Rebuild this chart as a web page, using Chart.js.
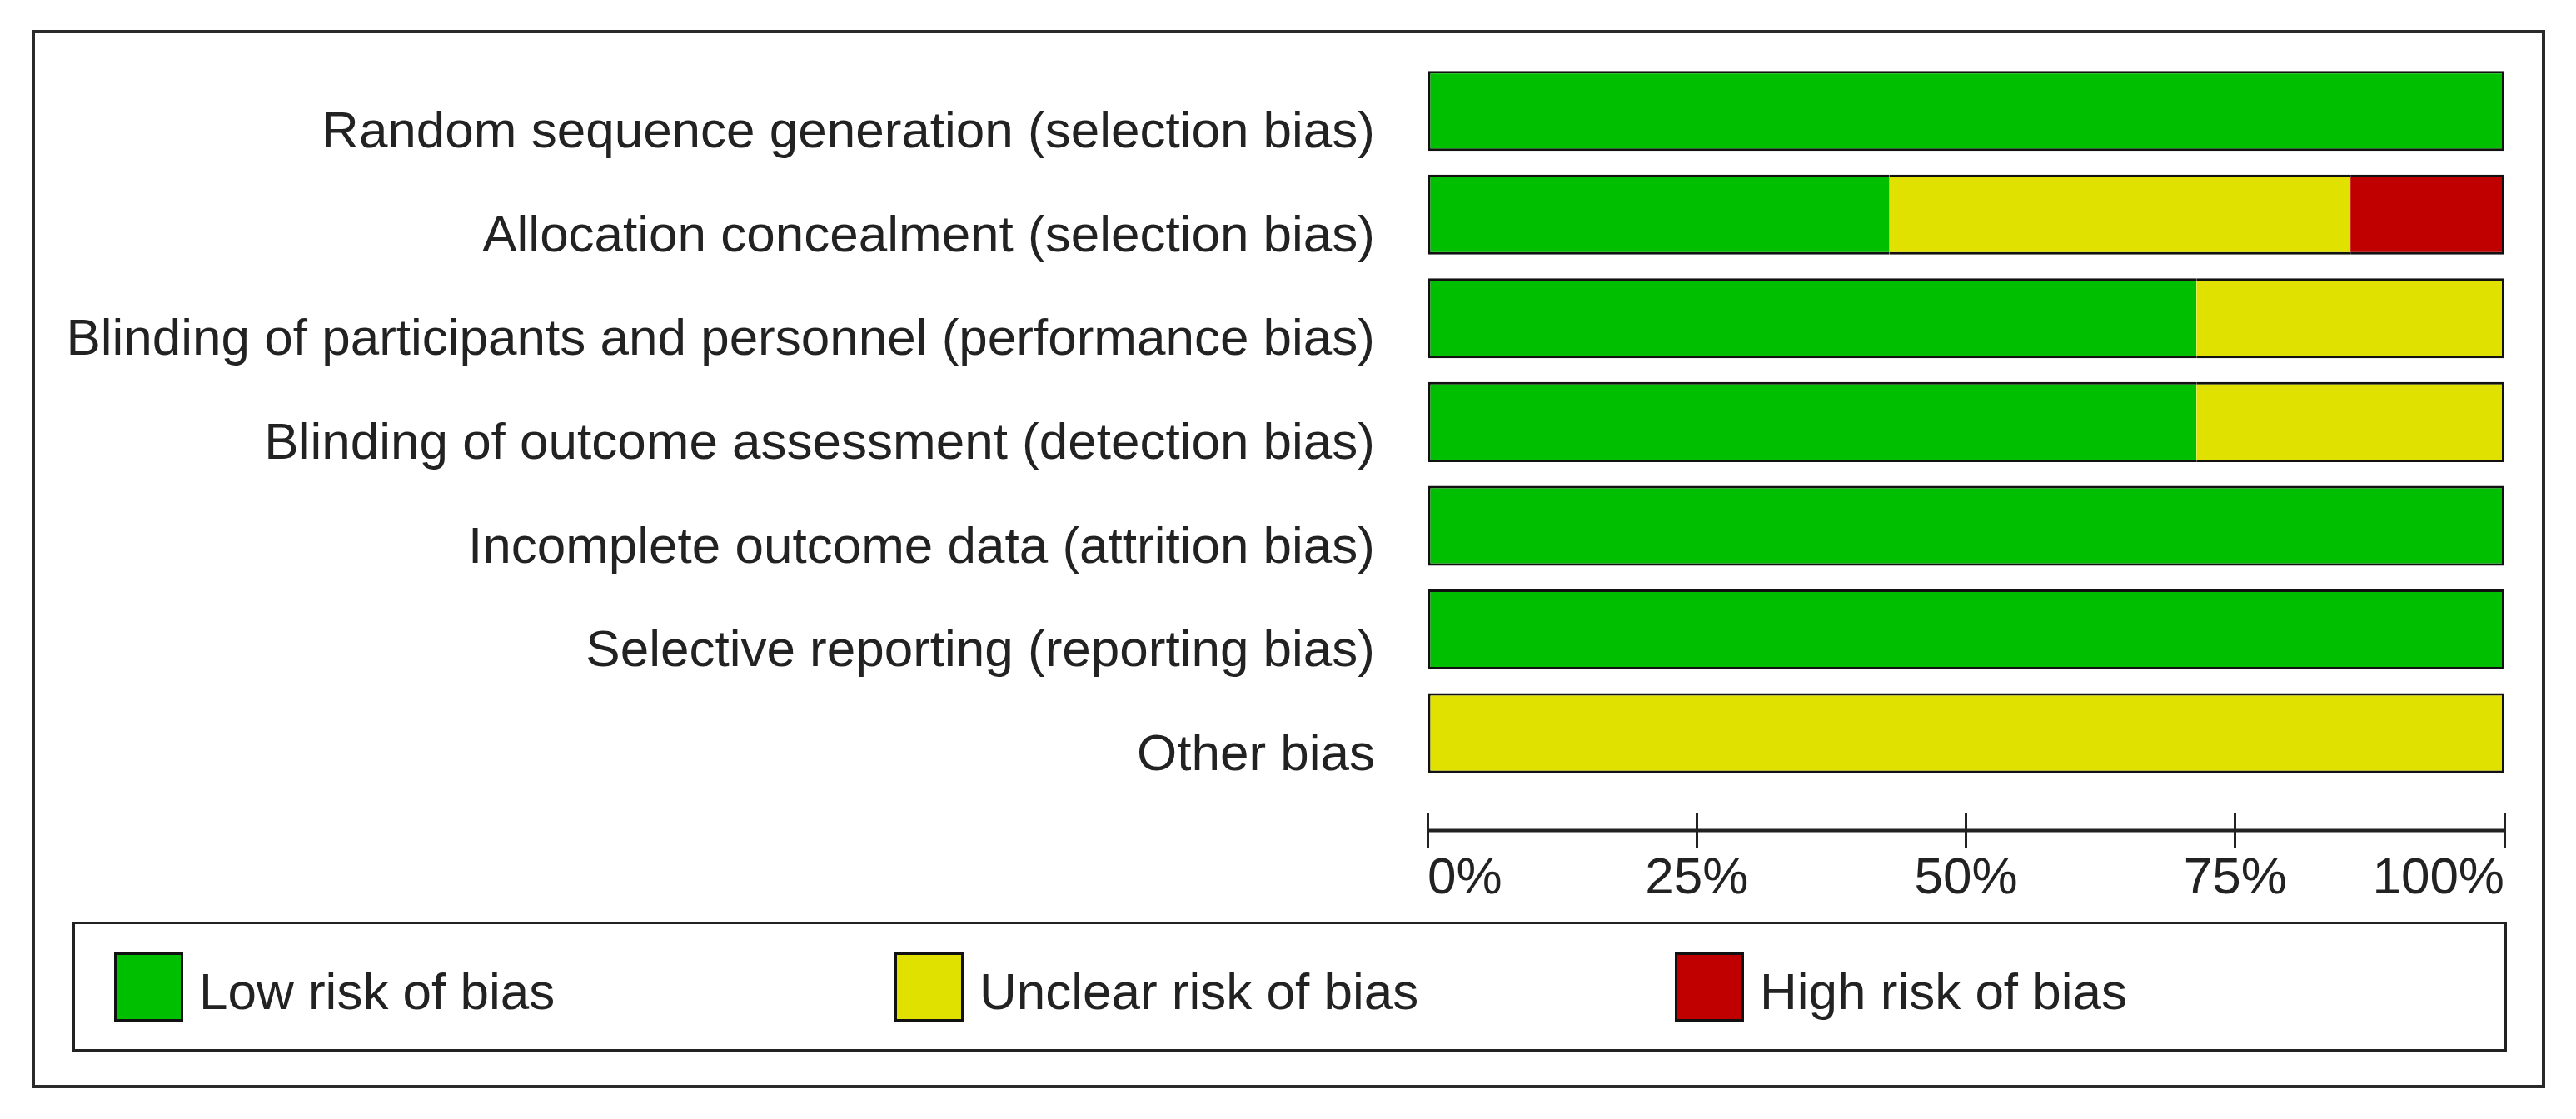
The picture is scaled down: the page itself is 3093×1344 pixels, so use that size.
<!DOCTYPE html>
<html>
<head>
<meta charset="utf-8">
<script src="https://cdn.jsdelivr.net/npm/chart.js@4.4.1/dist/chart.umd.min.js"></script>
<style>
  html, body { margin: 0; padding: 0; background: #fff; }
  #page { position: relative; width: 3093px; height: 1344px; overflow: hidden; }
  #frame {
    position: absolute; left: 38px; top: 36px; width: 3018px; height: 1271px;
    border: 4px solid #2a2a2a; box-sizing: border-box;
  }
  #chart { position: absolute; left: 0; top: 0; }
  #legend {
    position: absolute; left: 87px; top: 1107px; width: 2923px; height: 156px;
    border: 3px solid #222; box-sizing: border-box;
    display: flex; align-items: center; padding-left: 47px;
    font-family: "Liberation Sans", Arial, sans-serif; font-size: 62px; color: #222;
  }
  .item { width: 937px; display: flex; align-items: center; }
  .swatch { width: 83px; height: 83px; border: 3px solid #111; box-sizing: border-box; margin-right: 19px; }
  .item span { position: relative; top: 5px; }
</style>
</head>
<body>
<div id="page">
  <div id="frame"></div>
  <canvas id="chart" width="3093" height="1344"></canvas>
  <div id="legend"></div>
</div>
<script>
const categories = [
  'Random sequence generation (selection bias)',
  'Allocation concealment (selection bias)',
  'Blinding of participants and personnel (performance bias)',
  'Blinding of outcome assessment (detection bias)',
  'Incomplete outcome data (attrition bias)',
  'Selective reporting (reporting bias)',
  'Other bias'
]
const lowRisk = [100, 42.9, 71.4, 71.4, 100, 100, 0]
const unclearRisk = [0, 42.8, 28.6, 28.6, 0, 0, 100]
const highRisk = [0, 14.3, 0, 0, 0, 0, 0]
const xTicks = [0, 25, 50, 75, 100]

const seriesLabels = ['Low risk of bias', 'Unclear risk of bias', 'High risk of bias']
const seriesColors = ['#00bf00', '#e1e100', '#c00000']
const seriesValues = [lowRisk, unclearRisk, highRisk]

const fontSpec = { family: '"Liberation Sans", Arial, sans-serif', size: 62 }
const inkColor = '#222'
const tickLen = 43

// outer border only: no line between the coloured parts of one bar
function segmentBorder(context) {
  const i = context.dataIndex
  const d = context.datasetIndex
  const w = 3
  if (!seriesValues[d][i]) return 0
  let first = true
  let last = true
  for (let k = 0; k < d; k++) if (seriesValues[k][i]) first = false
  for (let k = d + 1; k < seriesValues.length; k++) if (seriesValues[k][i]) last = false
  return { top: w, bottom: w, left: first ? w : 0, right: last ? w : 0 }
}

const datasets = seriesValues.map((values, d) => ({
  label: seriesLabels[d],
  data: values.map((v, i) => ({ x: v, y: i })),
  backgroundColor: seriesColors[d],
  borderColor: '#111',
  borderWidth: segmentBorder,
  borderSkipped: false,
  inflateAmount: 0,
  categoryPercentage: 1,
  barPercentage: 0.771
}))

// horizontal axis line, crossing the middle of the tick marks
const axisLine = {
  id: 'axisLine',
  afterDraw(chart) {
    const xs = chart.scales.x
    const ctx = chart.ctx
    const y = xs.top + tickLen / 2
    ctx.save()
    ctx.strokeStyle = inkColor
    ctx.lineWidth = 4
    ctx.beginPath()
    ctx.moveTo(xs.getPixelForValue(xTicks[0]), y)
    ctx.lineTo(xs.getPixelForValue(xTicks[xTicks.length - 1]), y)
    ctx.stroke()
    ctx.restore()
  }
}

const chartConfig = {
  type: 'bar',
  data: { datasets: datasets },
  options: {
    indexAxis: 'y',
    responsive: false,
    devicePixelRatio: 1,
    animation: false,
    layout: {
      padding: { left: 0, top: 71, right: 86, bottom: 238 }
    },
    plugins: {
      legend: { display: false },
      tooltip: { enabled: false }
    },
    scales: {
      y: {
        type: 'linear',
        reverse: true,
        stacked: true,
        offset: false,
        min: -0.5,
        max: 6.767,
        afterFit: (scale) => {
          scale.width = 1714
          scale.paddingTop = 0
          scale.paddingBottom = 0
        },
        grid: { display: false, offset: false },
        border: { display: false },
        ticks: {
          stepSize: 1,
          includeBounds: false,
          autoSkip: false,
          padding: 55,
          labelOffset: 27,
          color: inkColor,
          font: fontSpec,
          callback: function (value) {
            return Number.isInteger(value) ? categories[value] : ''
          }
        }
      },
      x: {
        type: 'linear',
        stacked: true,
        min: xTicks[0],
        max: xTicks[xTicks.length - 1],
        afterFit: (scale) => { scale.height = 130 },
        afterBuildTicks: (scale) => { scale.ticks = xTicks.map(v => ({ value: v })) },
        border: { display: false },
        grid: {
          drawOnChartArea: false,
          drawTicks: true,
          tickLength: tickLen,
          tickWidth: 3,
          tickColor: inkColor
        },
        ticks: {
          align: 'inner',
          maxRotation: 0,
          padding: 0,
          color: inkColor,
          font: fontSpec,
          callback: function (value) {
            return value + '%'
          }
        }
      }
    }
  },
  plugins: [axisLine]
}

const chartElement = document.getElementById('chart').getContext('2d')
const riskChart = new Chart(chartElement, chartConfig)

// legend in its own box, built from the datasets
const legendBox = document.getElementById('legend')
riskChart.data.datasets.forEach(ds => {
  const item = document.createElement('div')
  item.className = 'item'
  const sw = document.createElement('div')
  sw.className = 'swatch'
  sw.style.background = ds.backgroundColor
  const txt = document.createElement('span')
  txt.textContent = ds.label
  item.appendChild(sw)
  item.appendChild(txt)
  legendBox.appendChild(item)
})
</script>
</body>
</html>
